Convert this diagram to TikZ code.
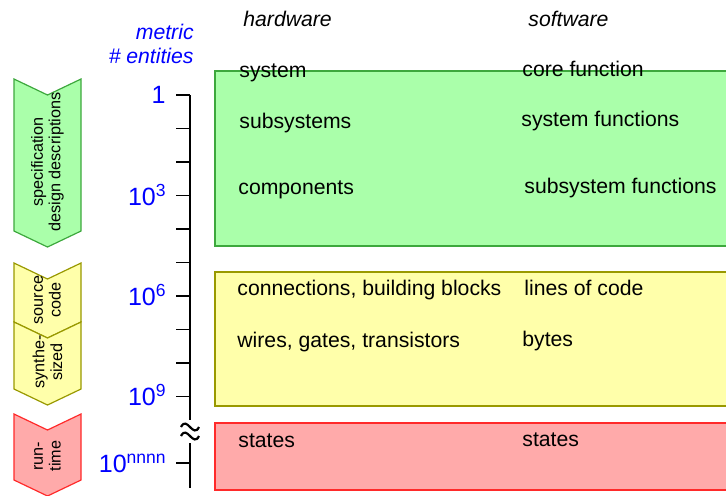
\documentclass[tikz,border=0pt]{standalone}
\usepackage{fontspec}
\setmainfont{Liberation Sans}
\usepackage{tikz}
\usetikzlibrary{positioning,calc}

\definecolor{specfill}{HTML}{AAFFAA}
\definecolor{specline}{HTML}{3DA83D}
\definecolor{codefill}{HTML}{FFFFAA}
\definecolor{codeline}{HTML}{999900}
\definecolor{runfill}{HTML}{FFAAAA}
\definecolor{runline}{HTML}{FF2A2A}

\tikzset{
  lbl/.style={font=\fontsize{10.6}{12.5}\selectfont,inner sep=0pt,anchor=base west},
  hdr/.style={lbl,font=\fontsize{10.6}{12.5}\selectfont\itshape},
  axnum/.style={text=blue,font=\fontsize{12.5}{15}\selectfont,inner sep=0pt,anchor=base east},
  chevtext/.style={rotate=90,align=center,inner sep=0pt,font=\fontsize{8.1}{8.8}\selectfont}
}

\begin{document}
\begin{tikzpicture}[x=0.5pt,y=-0.5pt]
\useasboundingbox (0,0) rectangle (726,495);
\pgfmathsetmacro{\axisx}{190}
\pgfmathsetmacro{\ticktop}{95}
\pgfmathsetmacro{\tickstep}{33.5}

\begin{scope}
\clip (0,0) rectangle (726,495);

% Level boxes
\draw[line width=0.6pt,draw=specline,fill=specfill] (215,71) rectangle (740,246);
\draw[line width=0.6pt,draw=codeline,fill=codefill] (215,272) rectangle (740,406);
\draw[line width=0.6pt,draw=runline,fill=runfill] (215,423) rectangle (740,490);

% Phase chevrons
\draw[line width=0.6pt,draw=specline,fill=specfill] (14,79) -- (47.5,95) -- (81,79) -- (81,231) -- (47.5,247) -- (14,231) -- cycle;
\draw[line width=0.6pt,draw=codeline,fill=codefill] (14,263) -- (47.5,279) -- (81,263) -- (81,322) -- (47.5,338) -- (14,322) -- cycle;
\draw[line width=0.6pt,draw=codeline,fill=codefill] (14,322) -- (47.5,338) -- (81,322) -- (81,389) -- (47.5,405) -- (14,389) -- cycle;
\draw[line width=0.6pt,draw=runline,fill=runfill] (14,414) -- (47.5,430) -- (81,414) -- (81,480) -- (47.5,496) -- (14,480) -- cycle;
\end{scope}

\node[chevtext] (spec) at (47.5,162) {specification\\design descriptions};
\node[chevtext] (source) at (47.5,300) {source\\code};
\node[chevtext] (synth) at (47.5,362) {synthe-\\sized};
\node[chevtext] (runtime) at (47.5,456) {run-\\time};

% Axis
\draw[line width=0.8pt] (\axisx,\ticktop) -- (\axisx,488);
\foreach \k in {0,...,9}
  \draw[line width=0.8pt] (176,\ticktop+\tickstep*\k) -- (\axisx,\ticktop+\tickstep*\k);
\draw[line width=0.8pt] (176,463) -- (\axisx,463);

% Axis break
\fill[white] (180,420) rectangle (200,443);
\draw[line width=1.1pt] (181,427) .. controls (187,415) and (193,439) .. (199,427);
\draw[line width=1.1pt] (181,436) .. controls (187,424) and (193,448) .. (199,436);

% Axis labels
\node[hdr,anchor=base east,text=blue] (metric) at (194,39) {metric};
\node[hdr,anchor=base east,text=blue] (entities) at (194,63) {\# entities};
\node[axnum] (n0) at (166,103) {1};
\node[axnum] (n3) at (167,205) {10\textsuperscript{3}};
\node[axnum] (n6) at (167,305) {10\textsuperscript{6}};
\node[axnum] (n9) at (167,405) {10\textsuperscript{9}};
\node[axnum] (nn) at (167,472) {10\textsuperscript{nnnn}};

% Column headers
\node[hdr] (hw) at (243,26) {hardware};
\node[hdr] (sw) at (528,26) {software};

% Hardware entities
\node[lbl] (hw1) at (239,77) {system};
\node[lbl] (hw2) at (239,128) {subsystems};
\node[lbl] (hw3) at (238,194) {components};
\node[lbl] (hw4) at (237,295) {connections, building blocks};
\node[lbl] (hw5) at (237,347) {wires, gates, transistors};
\node[lbl] (hw6) at (238,447) {states};

% Software entities
\node[lbl] (sw1) at (522,76) {core function};
\node[lbl] (sw2) at (521,126) {system functions};
\node[lbl] (sw3) at (524,193) {subsystem functions};
\node[lbl] (sw4) at (524,295) {lines of code};
\node[lbl] (sw5) at (522,346) {bytes};
\node[lbl] (sw6) at (522,446) {states};

\end{tikzpicture}
\end{document}
